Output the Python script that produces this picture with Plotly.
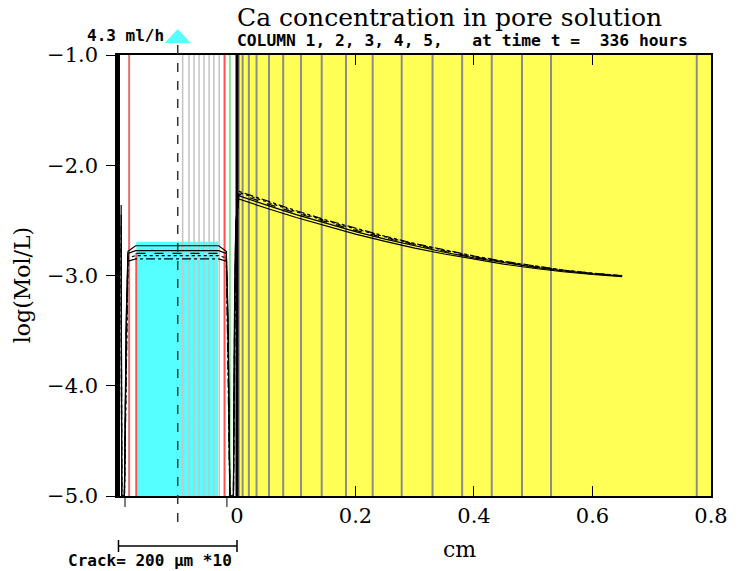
import plotly.graph_objects as go

# ---------------- data ----------------
x_range = [-0.2025, 0.8]
y_range = [-5.0, -1.0]
x_ticks = [0, 0.2, 0.4, 0.6, 0.8]
x_tick_text = ["0", "0.2", "0.4", "0.6", "0.8"]
y_ticks = [-5.0, -4.0, -3.0, -2.0, -1.0]

# element boundaries (mesh) in the solid (yellow) region and in the crack
mesh_solid = [0.003, 0.0095, 0.020, 0.033, 0.054, 0.078, 0.108, 0.143, 0.184,
              0.229, 0.278, 0.330, 0.380, 0.430, 0.481, 0.530, 0.776]
mesh_crack = [-0.0917, -0.081, -0.0726, -0.064, -0.0557, -0.047, -0.039, -0.030]
crack_center = -0.1
wall_left = -0.2
wall_right = 0.0
red_lines = [-0.182, -0.021]
green_lines = [-0.012]
water_x = [-0.170, -0.032]
water_level = -2.695

# Ca concentration profiles, 5 columns
x_prof = [-0.1955, -0.195, -0.1945, -0.19, -0.187, -0.184, -0.171, -0.14, -0.1,
          -0.06, -0.031, -0.018, -0.015, -0.012, -0.006, -0.004, -0.002,
          0.003, 0.02, 0.05, 0.1, 0.15, 0.2, 0.25, 0.3, 0.35, 0.4, 0.45, 0.5,
          0.55, 0.6, 0.65]
col1 = [-2.36, -3.0, -5.0, -5.0, -3.4, -2.78, -2.73, -2.73, -2.73, -2.73, -2.73,
        -2.78, -3.4, -5.0, -5.0, -3.2, -2.5,
        -2.306, -2.337, -2.390, -2.474, -2.552, -2.624, -2.690, -2.751, -2.805,
        -2.854, -2.897, -2.934, -2.966, -2.991, -3.010]
col2 = [-2.45, -3.1, -5.0, -5.0, -3.5, -2.80, -2.775, -2.775, -2.775, -2.775, -2.775,
        -2.80, -3.5, -5.0, -5.0, -3.3, -2.55,
        -2.276, -2.308, -2.362, -2.448, -2.528, -2.602, -2.670, -2.733, -2.789,
        -2.840, -2.885, -2.924, -2.958, -2.985, -3.005]
col3 = [-2.55, -3.2, -5.0, -5.0, -3.6, -2.82, -2.80, -2.80, -2.80, -2.80, -2.80,
        -2.82, -3.6, -5.0, -5.0, -3.4, -2.6,
        -2.260, -2.292, -2.347, -2.434, -2.515, -2.590, -2.659, -2.723, -2.780,
        -2.833, -2.879, -2.919, -2.954, -2.982, -3.003]
col4 = [-2.65, -3.3, -5.0, -5.0, -3.7, -2.84, -2.82, -2.82, -2.82, -2.82, -2.82,
        -2.84, -3.7, -5.0, -5.0, -3.5, -2.65,
        -2.246, -2.278, -2.334, -2.422, -2.504, -2.580, -2.650, -2.715, -2.773,
        -2.827, -2.874, -2.915, -2.951, -2.980, -3.002]
col5 = [-2.75, -3.4, -5.0, -5.0, -3.8, -2.87, -2.85, -2.85, -2.85, -2.85, -2.85,
        -2.87, -3.8, -5.0, -5.0, -3.6, -2.7,
        -2.236, -2.268, -2.325, -2.413, -2.496, -2.573, -2.644, -2.710, -2.769,
        -2.823, -2.871, -2.913, -2.950, -2.979, -3.001]
columns = [col1, col2, col3, col4, col5]
col_dash = ["solid", "solid", "dash", "dot", "dashdot"]

SERIF = "DejaVu Serif"
MONO = "DejaVu Sans Mono"

fig = go.Figure()
for ys, d in zip(columns, col_dash):
    fig.add_trace(go.Scatter(x=x_prof, y=ys, mode="lines",
                             line=dict(color="black", width=1.2, dash=d),
                             showlegend=False, hoverinfo="skip"))

shapes = []
# yellow solid region
shapes.append(dict(type="rect", xref="x", yref="y", x0=wall_right, x1=x_range[1],
                   y0=y_range[0], y1=y_range[1], fillcolor="#FFFF55",
                   line=dict(width=0), layer="below"))
# water in crack
shapes.append(dict(type="rect", xref="x", yref="y", x0=water_x[0], x1=water_x[1],
                   y0=y_range[0], y1=water_level, fillcolor="#55FFFF",
                   line=dict(width=0), layer="below"))
for xv in mesh_solid:
    shapes.append(dict(type="line", xref="x", yref="y", x0=xv, x1=xv,
                       y0=y_range[0], y1=y_range[1],
                       line=dict(color="#8C8C8C", width=2), layer="below"))
for xv in mesh_crack:
    shapes.append(dict(type="line", xref="x", yref="y", x0=xv, x1=xv,
                       y0=y_range[0], y1=y_range[1],
                       line=dict(color="#C4C4C4", width=1.5), layer="below"))
shapes.append(dict(type="line", xref="x", yref="y", x0=red_lines[0], x1=red_lines[0],
                   y0=y_range[0], y1=y_range[1],
                   line=dict(color="#E07070", width=2), layer="below"))
shapes.append(dict(type="line", xref="x", yref="y", x0=red_lines[1], x1=red_lines[1],
                   y0=y_range[0], y1=y_range[1],
                   line=dict(color="#FF5050", width=2), layer="below"))
shapes.append(dict(type="line", xref="x", yref="y", x0=water_x[0], x1=water_x[0],
                   y0=y_range[0], y1=water_level - 0.1,
                   line=dict(color="#FF5050", width=2), layer="below"))
for xv in green_lines:
    shapes.append(dict(type="line", xref="x", yref="y", x0=xv, x1=xv,
                       y0=y_range[0], y1=y_range[1],
                       line=dict(color="#90E090", width=2), layer="below"))
for xv in [wall_left, wall_right]:
    shapes.append(dict(type="line", xref="x", yref="y", x0=xv, x1=xv,
                       y0=y_range[0], y1=y_range[1],
                       line=dict(color="black", width=3)))
# dashed crack centre line
shapes.append(dict(type="line", xref="x", yref="paper", x0=crack_center, x1=crack_center,
                   y0=-0.059, y1=1.025,
                   line=dict(color="#333333", width=1.5, dash="dash")))
# inflow triangle
shapes.append(dict(type="path", xref="x", yref="paper",
                   path="M -0.122 1.027 L -0.078 1.027 L -0.1 1.059 Z",
                   fillcolor="#55FFFF", line=dict(width=0)))
# crack scale bar
shapes.append(dict(type="line", xref="x", yref="paper", x0=wall_left, x1=wall_right,
                   y0=-0.1134, y1=-0.1134, line=dict(color="black", width=1.5)))
for xv in [wall_left, wall_right]:
    shapes.append(dict(type="line", xref="x", yref="paper", x0=xv, x1=xv,
                       y0=-0.0998, y1=-0.127, line=dict(color="black", width=1.5)))
for xv in [-0.189, -0.017]:
    shapes.append(dict(type="line", xref="x", yref="paper", x0=xv, x1=xv,
                       y0=0, y1=-0.025, line=dict(color="black", width=1)))

annotations = [
    dict(text="Ca concentration in pore solution", xref="paper", yref="paper",
         x=0.1987, y=1.084, xanchor="left", yanchor="middle", showarrow=False,
         font=dict(family=SERIF, size=25, color="black")),
    dict(text="COLUMN 1, 2, 3, 4, 5,   at time t =  336 hours", xref="paper", yref="paper",
         x=0.1987, y=1.032, xanchor="left", yanchor="middle", showarrow=False,
         font=dict(family=MONO, size=16.3, color="black", weight="bold")),
    dict(text="4.3 ml/h", xref="paper", yref="paper",
         x=-0.054, y=1.045, xanchor="left", yanchor="middle", showarrow=False,
         font=dict(family=MONO, size=16, color="black", weight="bold")),
    dict(text="Crack= 200 μm *10", xref="paper", yref="paper",
         x=-0.086, y=-0.147, xanchor="left", yanchor="middle", showarrow=False,
         font=dict(family=MONO, size=16, color="black", weight="bold")),
    dict(text="cm", xref="paper", yref="paper",
         x=0.577, y=-0.122, xanchor="center", yanchor="middle", showarrow=False,
         font=dict(family=SERIF, size=22, color="black")),
    dict(text="log(Mol/L)", xref="paper", yref="paper", textangle=-90,
         x=-0.16, y=0.478, xanchor="center", yanchor="middle", showarrow=False,
         font=dict(family=SERIF, size=22, color="black")),
]

fig.update_layout(
    width=749, height=571,
    margin=dict(l=117, r=38, t=55, b=75),
    paper_bgcolor="white", plot_bgcolor="white",
    shapes=shapes, annotations=annotations,
    xaxis=dict(range=x_range, tickvals=x_ticks, ticktext=x_tick_text,
               ticks="inside", ticklen=10, tickcolor="black", tickwidth=1.2,
               showline=True, linecolor="black", linewidth=1.5, mirror="ticks",
               showgrid=False, zeroline=False,
               tickfont=dict(family=SERIF, size=21, color="black")),
    yaxis=dict(range=y_range, tickvals=y_ticks, tickformat=".1f",
               ticks="outside", ticklen=9, tickcolor="black", tickwidth=1.2,
               showline=True, linecolor="black", linewidth=1.5, mirror=True,
               showgrid=False, zeroline=False, ticklabelstandoff=4,
               tickfont=dict(family=SERIF, size=21, color="black")),
)

fig.write_html("out.html")
